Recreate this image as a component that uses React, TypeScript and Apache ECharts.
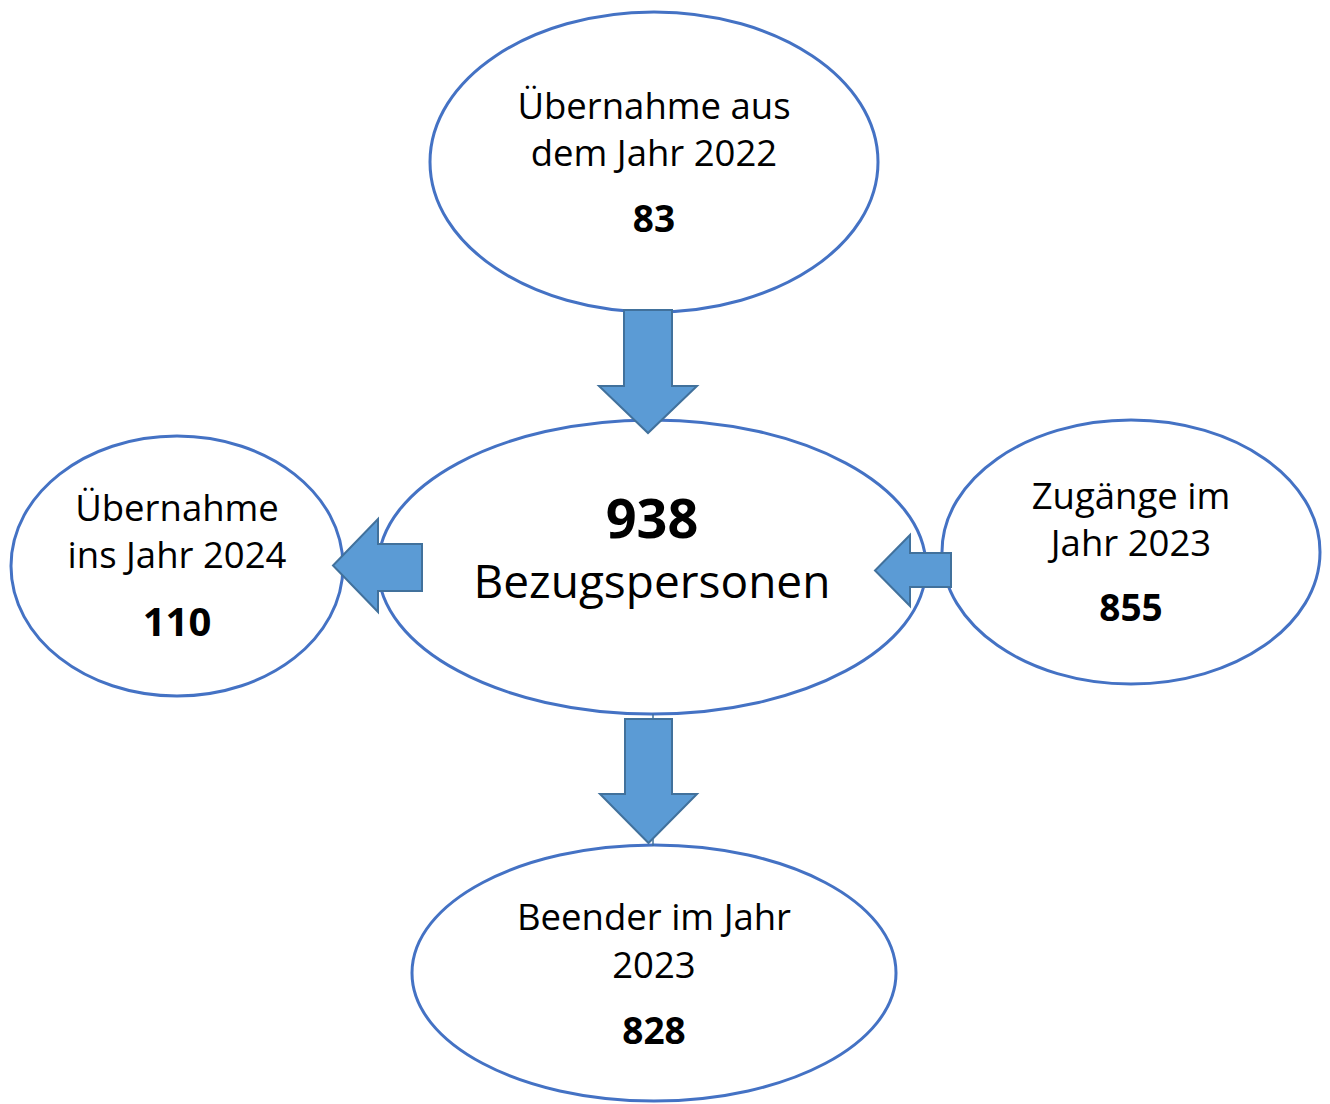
import React, { useEffect, useRef } from "react";
import * as echarts from "echarts";

const nodeTitles: string[][] = [
  ["Übernahme aus", "dem Jahr 2022"],
  ["Bezugspersonen"],
  ["Übernahme", "ins Jahr 2024"],
  ["Zugänge im", "Jahr 2023"],
  ["Beender im Jahr", "2023"],
];
const nodeValues: number[] = [83, 938, 110, 855, 828];

const FONT = "'Open Sans', Lato, sans-serif";
const NUM_FONT = "'Open Sans', Lato, sans-serif";
const STROKE = "#4472C4";
const ARROW_FILL = "#5B9BD5";
const ARROW_STROKE = "#41719C";

// layout: ellipse centres and radii
const ellipses = [
  { cx: 654, cy: 162, rx: 224, ry: 150 },
  { cx: 652, cy: 567, rx: 274, ry: 147 },
  { cx: 177, cy: 566, rx: 166, ry: 130 },
  { cx: 1131, cy: 552, rx: 189, ry: 132 },
  { cx: 654, cy: 973, rx: 242, ry: 128 },
];

function downArrow(l: number, r: number, top: number, headY: number, hl: number, hr: number, tipY: number) {
  const mx = (hl + hr) / 2;
  return [[l, top], [r, top], [r, headY], [hr, headY], [mx, tipY], [hl, headY], [l, headY]];
}
function leftArrow(right: number, top: number, bottom: number, headX: number, ht: number, hb: number, tipX: number) {
  const my = (ht + hb) / 2;
  return [[right, top], [headX, top], [headX, ht], [tipX, my], [headX, hb], [headX, bottom], [right, bottom]];
}

export default function App() {
  const ref = useRef<HTMLDivElement>(null);
  useEffect(() => {
    if (!ref.current) return;
    const chart = echarts.init(ref.current, undefined, { renderer: "svg" });
    const elements: any[] = [];

    ellipses.forEach((e) => {
      elements.push({
        type: "ellipse",
        z: 1,
        shape: { cx: e.cx, cy: e.cy, rx: e.rx, ry: e.ry },
        style: { fill: "#fff", stroke: STROKE, lineWidth: 3 },
      });
    });

    // connector lines
    elements.push({ type: "line", z: 2, shape: { x1: 653, y1: 312, x2: 653, y2: 420 }, style: { stroke: ARROW_STROKE, lineWidth: 1.5 } });
    elements.push({ type: "line", z: 2, shape: { x1: 653, y1: 714, x2: 653, y2: 846 }, style: { stroke: ARROW_STROKE, lineWidth: 1.5 } });

    const arrows = [
      downArrow(624, 672, 310, 386, 599, 697, 433),
      downArrow(625, 672, 719, 794, 600, 697, 843),
      leftArrow(422, 544, 591, 378, 519, 612, 333),
      leftArrow(951, 553, 587, 910, 535, 606, 875),
    ];
    arrows.forEach((pts) => {
      elements.push({
        type: "polygon",
        z: 3,
        shape: { points: pts },
        style: { fill: ARROW_FILL, stroke: ARROW_STROKE, lineWidth: 2 },
      });
    });

    const txt = (text: string, x: number, y: number, size: number, bold: boolean) => ({
      type: "text",
      z: 4,
      style: {
        text,
        x,
        y,
        align: "center",
        verticalAlign: "middle",
        fontSize: size,
        fontWeight: bold ? "bold" : "normal",
        fontFamily: bold ? NUM_FONT : FONT,
        fill: "#000",
      },
    });

    const R = 36.5;
    // top
    elements.push(txt(nodeTitles[0][0], 654, 105, R, false));
    elements.push(txt(nodeTitles[0][1], 654, 152, R, false));
    elements.push(txt(String(nodeValues[0]), 654, 217, 37, true));
    // center
    elements.push(txt(String(nodeValues[1]), 652, 517, 54, true));
    elements.push(txt(nodeTitles[1][0], 652, 580, 46, false));
    // left
    elements.push(txt(nodeTitles[2][0], 177, 507, R, false));
    elements.push(txt(nodeTitles[2][1], 177, 554, R, false));
    elements.push(txt(String(nodeValues[2]), 177, 620, 40, true));
    // right
    elements.push(txt(nodeTitles[3][0], 1131, 495, R, false));
    elements.push(txt(nodeTitles[3][1], 1131, 542, R, false));
    elements.push(txt(String(nodeValues[3]), 1131, 606, 37, true));
    // bottom
    elements.push(txt(nodeTitles[4][0], 654, 916, R, false));
    elements.push(txt(nodeTitles[4][1], 654, 964, R, false));
    elements.push(txt(String(nodeValues[4]), 654, 1029, 37, true));

    chart.setOption({ animation: false, graphic: { elements } });
    return () => chart.dispose();
  }, []);
  return (
    <div
      ref={ref}
      style={{ position: "fixed", left: 0, top: 0, width: 1330, height: 1104, background: "#fff" }}
    />
  );
}
